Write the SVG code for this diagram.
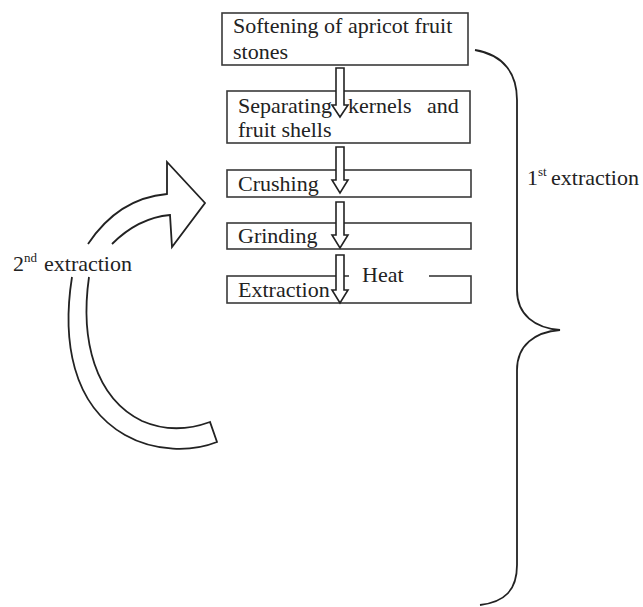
<svg xmlns="http://www.w3.org/2000/svg" width="643" height="607" viewBox="0 0 643 607">
<style>
.box{fill:#fff;stroke:#3a3a3a;stroke-width:1.6}
.t{font-family:"Liberation Serif","Times New Roman",serif;font-size:22px;fill:#222}
.sup{font-size:13px}
.arr{fill:#fff;stroke:#222;stroke-width:1.6;stroke-linejoin:miter}
.ln{fill:none;stroke:#222;stroke-width:1.8}
</style>
<rect width="643" height="607" fill="#fff"/>
<g id="n1">
<rect class="box" x="222" y="13" width="246" height="52"/>
<text class="t" x="233" y="33">Softening of apricot fruit</text>
<text class="t" x="233" y="59">stones</text>
</g>
<g id="n2">
<rect class="box" x="227" y="91" width="243" height="52"/>
<text class="t" y="113"><tspan x="238">Separating</tspan><tspan x="348">kernels</tspan><tspan x="427">and</tspan></text>
<text class="t" x="238" y="137">fruit shells</text>
</g>
<g id="n3">
<rect class="box" x="227" y="170" width="244" height="27"/>
<text class="t" x="238" y="191">Crushing</text>
</g>
<g id="n4">
<rect class="box" x="227" y="223" width="244" height="26"/>
<text class="t" x="238" y="243">Grinding</text>
</g>
<g id="n5">
<rect class="box" x="227" y="276" width="244" height="27"/>
<text class="t" x="238" y="297">Extraction</text>
</g>
<g id="connectors">
<path class="arr" d="M336,68 V105 H332 L340,117 L348,105 H344 V68 Z"/>
<path class="arr" d="M336,147 V180 H332 L340,193 L348,180 H344 V147 Z"/>
<path class="arr" d="M336,202 V235 H332 L340,248 L348,235 H344 V202 Z"/>
<path class="arr" d="M336,255 V290 H332 L340,303 L348,290 H344 V255 Z"/>
</g>
<g id="heat">
<rect x="349" y="262" width="80" height="22" fill="#fff"/>
<text class="t" x="362" y="282">Heat</text>
</g>
<g id="second-extraction">
<path class="ln" d="M88,244 C108,214 133,197 167,194 L167,162 L205,203 L172,247 L170,215 C148,217 130,226 112,244"/>
<path class="ln" d="M72,277 C62,340 72,405 125,435 C155,452 192,452 217,442 L210,422 C188,430 165,431 142,421 C95,398 80,340 89,277"/>
<text class="t" x="13" y="271">2<tspan class="sup" dy="-9">nd</tspan><tspan dy="9" x="44">extraction</tspan></text>
</g>
<g id="first-extraction">
<path class="ln" d="M475,50 C505,55 517,75 517,100 L517,290 C517,315 535,328 560,330 C535,332 517,345 517,370 L517,565 C517,590 505,602 480,605"/>
<text class="t" x="527" y="185">1<tspan class="sup" dy="-9">st</tspan><tspan dy="9" x="551">extraction</tspan></text>
</g>
</svg>
